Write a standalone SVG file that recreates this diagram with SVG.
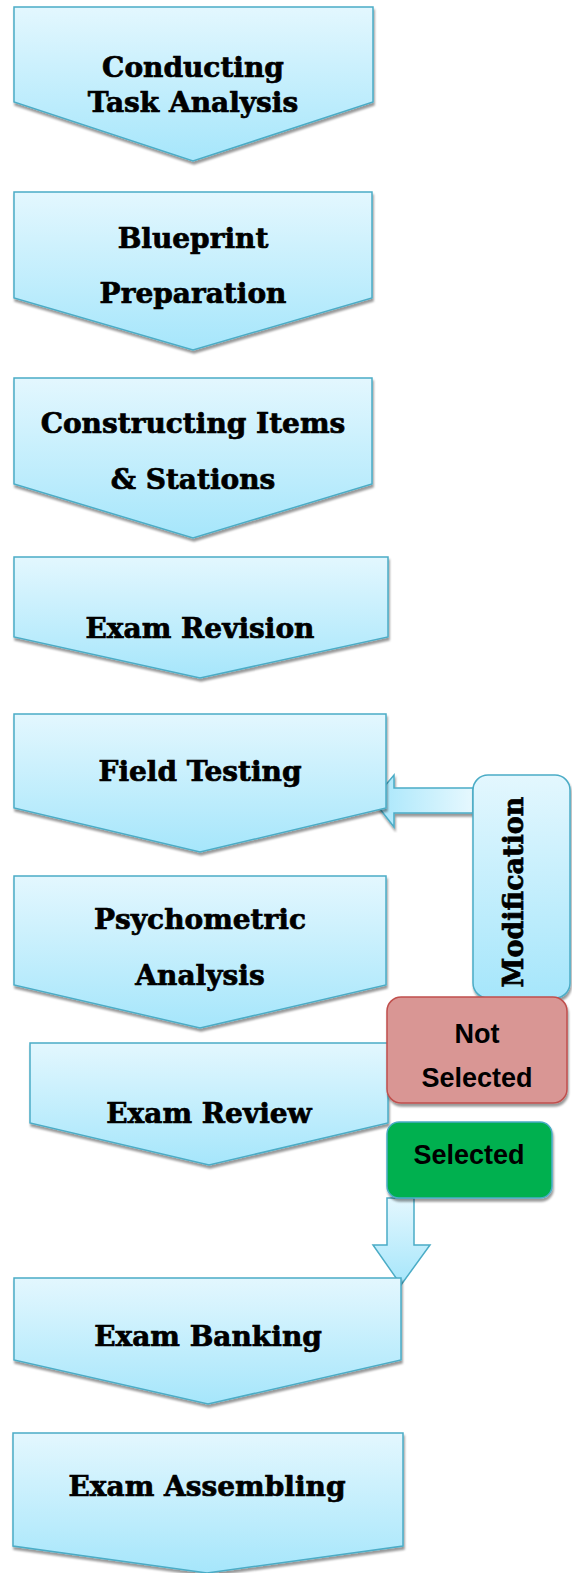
<svg xmlns="http://www.w3.org/2000/svg" width="572" height="1573" viewBox="0 0 572 1573">
<defs>
<linearGradient id="gv" x1="0" y1="0" x2="0" y2="1">
<stop offset="0" stop-color="#e3f7fe"/>
<stop offset="1" stop-color="#a6e6fb"/>
</linearGradient>
<linearGradient id="gh" x1="0" y1="0" x2="1" y2="0">
<stop offset="0" stop-color="#a6e6fb"/>
<stop offset="1" stop-color="#e6f8fe"/>
</linearGradient>
<filter id="sh" x="-10%" y="-10%" width="120%" height="120%">
<feDropShadow dx="1" dy="3" stdDeviation="1" flood-color="#000" flood-opacity="0.4"/>
</filter>
<style>
.blk{fill:url(#gv);stroke:#4bacc6;stroke-width:1.5;filter:url(#sh)}
.t{font-family:"DejaVu Serif",serif;font-weight:bold;font-size:28px;fill:#000;stroke:#000;stroke-width:0.7;text-anchor:middle}
.c{font-family:"Liberation Sans","Open Sans",sans-serif;font-weight:bold;font-size:27px;fill:#000;text-anchor:middle}
</style>
</defs>
<g id="connectors">
<path d="M473,788 H394 V775 L373,800 L394,827 V813 H473 Z" fill="url(#gh)" stroke="#4bacc6" stroke-width="1.5" filter="url(#sh)"/>
<path d="M387,1198 H414 V1245 H430 L401,1285 L373,1245 H387 Z" fill="url(#gv)" stroke="#4bacc6" stroke-width="1.5"/>
</g>
<g id="n1"><path class="blk" d="M14,7 H373 V102 L193,161 L14,102 Z"/><text class="t" x="193" y="77">Conducting</text><text class="t" x="193" y="112">Task Analysis</text></g>
<g id="n2"><path class="blk" d="M14,192 H372 V298 L193,350 L14,298 Z"/><text class="t" x="193" y="248">Blueprint</text><text class="t" x="193" y="303">Preparation</text></g>
<g id="n3"><path class="blk" d="M14,378 H372 V484 L193,538 L14,484 Z"/><text class="t" x="193" y="433">Constructing Items</text><text class="t" x="193" y="489">&amp; Stations</text></g>
<g id="n4"><path class="blk" d="M14,557 H388 V637 L200,678 L14,637 Z"/><text class="t" x="200" y="638">Exam Revision</text></g>
<g id="n5"><path class="blk" d="M14,714 H386 V808 L200,852 L14,808 Z"/><text class="t" x="200" y="781">Field Testing</text></g>
<g id="n6"><path class="blk" d="M14,876 H386 V985 L200,1028 L14,985 Z"/><text class="t" x="200" y="929">Psychometric</text><text class="t" x="200" y="985">Analysis</text></g>
<g id="n7"><path class="blk" d="M30,1043 H388 V1123 L209,1165 L30,1123 Z"/><text class="t" x="209" y="1123">Exam Review</text></g>
<g id="n8"><path class="blk" d="M14,1278 H401 V1360 L208,1404 L14,1360 Z"/><text class="t" x="208" y="1346">Exam Banking</text></g>
<g id="n9"><path class="blk" d="M13,1433 H403 V1546 L207,1573 L13,1546 Z"/><text class="t" x="207" y="1496">Exam Assembling</text></g>
<g id="modification"><rect x="473" y="775" width="97" height="223" rx="15" class="blk"/><text class="t" transform="translate(523,892) rotate(-90)" x="0" y="0" style="font-size:27px">Modification</text></g>
<g id="not-selected"><rect x="387" y="997" width="180" height="106" rx="14" fill="#d99694" stroke="#c0504d" stroke-width="1.5" filter="url(#sh)"/><text class="c" x="477" y="1043">Not</text><text class="c" x="477" y="1087">Selected</text></g>
<g id="selected"><rect x="387" y="1122" width="165" height="76" rx="12" fill="#00b050" stroke="#4bacc6" stroke-width="1.5" filter="url(#sh)"/><text class="c" x="469" y="1164">Selected</text></g>
</svg>
